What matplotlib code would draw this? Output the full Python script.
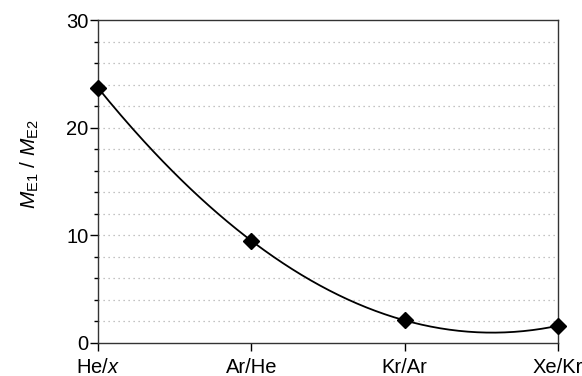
import numpy as np
import matplotlib.pyplot as plt
from matplotlib.ticker import MultipleLocator

plt.rcParams['font.family'] = ['Liberation Sans', 'DejaVu Sans']
plt.rcParams['mathtext.fontset'] = 'custom'
plt.rcParams['mathtext.rm'] = 'Liberation Sans'
plt.rcParams['mathtext.it'] = 'Liberation Sans:italic'

# data
pairs = ['He/$x$', 'Ar/He', 'Kr/Ar', 'Xe/Kr']
ratio = [23.7, 9.5, 2.1, 1.6]

pos = np.arange(len(pairs))

fig = plt.figure(figsize=(5.82, 3.76), dpi=100)
ax = fig.add_axes([98 / 582, 1 - 343 / 376, 460 / 582, 323 / 376])

# smooth connecting curve through the points (like the original spline line)
coef = np.polyfit(pos, ratio, len(pos) - 1)
xs = np.linspace(pos[0], pos[-1], 200)
ax.plot(xs, np.polyval(coef, xs), color='black', lw=1.3, zorder=3)
ax.plot(pos, ratio, ls='none', marker='D', ms=8, color='black', zorder=4, clip_on=False)

ax.set_xlim(pos[0], pos[-1])
ax.set_ylim(0, 30)
ax.set_xticks(pos)
ax.set_xticklabels(pairs)
ax.yaxis.set_major_locator(MultipleLocator(10))
ax.yaxis.set_minor_locator(MultipleLocator(2))

for y in np.arange(2, 30, 2):
    ax.axhline(y, color='#b0b0b0', lw=0.9, ls=(0, (1, 3)), zorder=1)

ax.tick_params(axis='both', which='major', direction='out', length=6, width=1, labelsize=14.5)
ax.tick_params(axis='y', which='major', pad=1)
ax.tick_params(axis='x', which='major', pad=5)
ax.tick_params(axis='y', which='minor', direction='out', length=3, width=1)
for s in ax.spines.values():
    s.set_linewidth(1.0)
    s.set_color('#333333')

ax.set_ylabel(r'$\mathit{M}_{\mathrm{E1}}$ / $\mathit{M}_{\mathrm{E2}}$', fontsize=15)
ax.yaxis.set_label_coords(-0.125, 0.555)

fig.savefig('out.png', dpi=100)
